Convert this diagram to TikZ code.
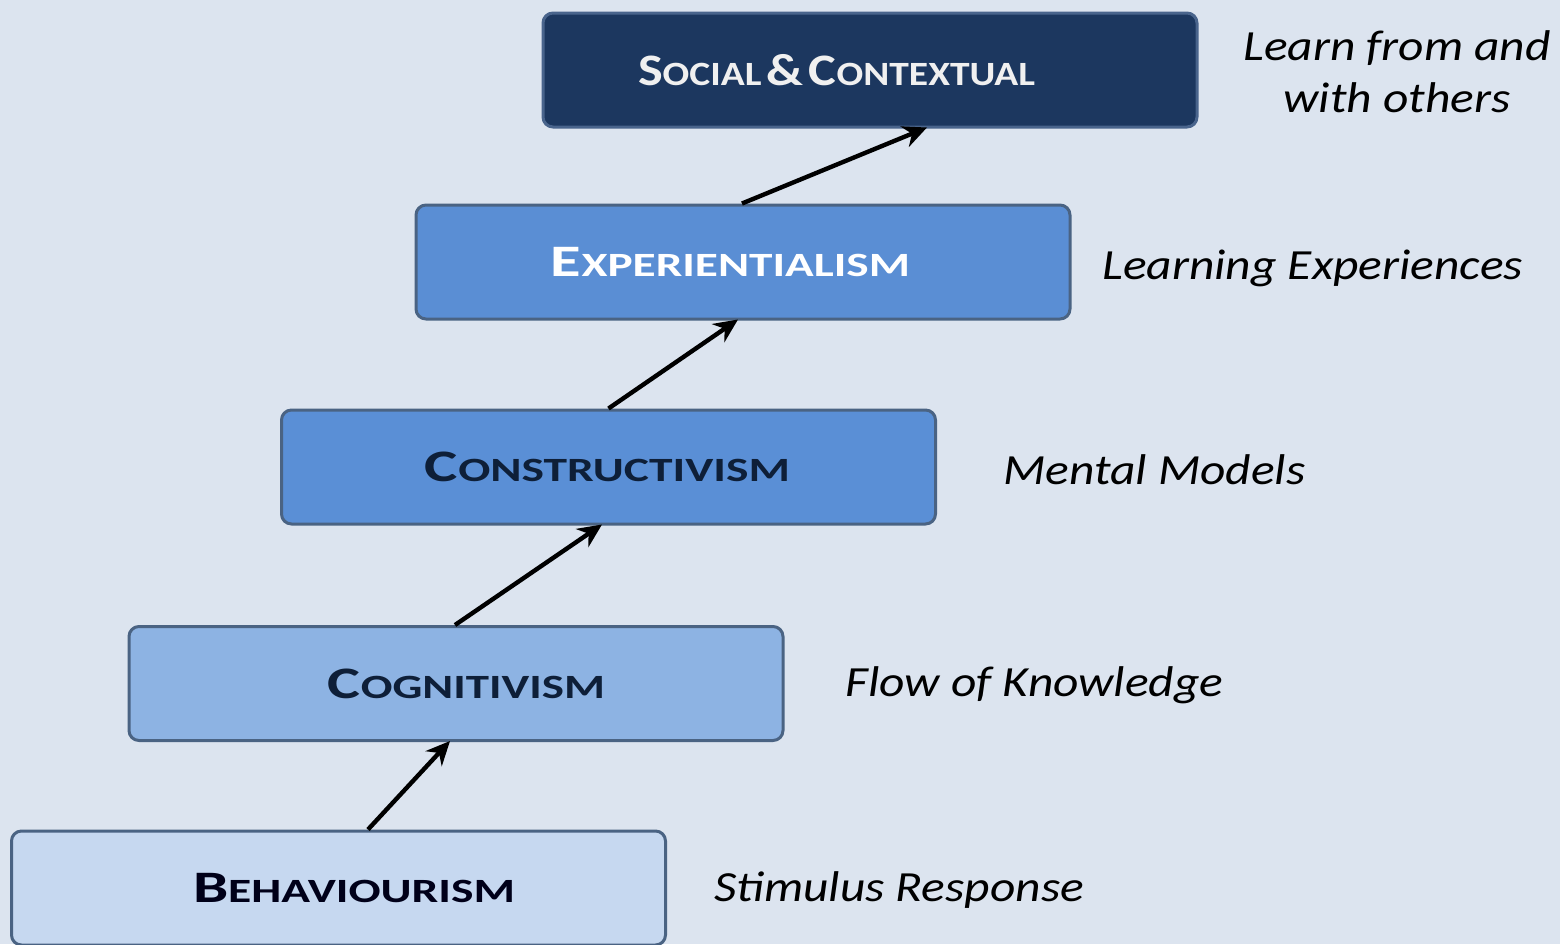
\documentclass[tikz,border=0pt]{standalone}
\usepackage{fontspec}
\usepackage{graphicx}
\setmainfont{Carlito}
\newfontfamily\notefont[FakeStretch=1.15]{Carlito}
\usetikzlibrary{arrows.meta,calc}
\definecolor{bgc}{HTML}{DCE4EF}
\definecolor{socf}{HTML}{1C375F}
\definecolor{socb}{HTML}{49648C}
\definecolor{expf}{HTML}{5A8ED4}
\definecolor{conf}{HTML}{5A8FD6}
\definecolor{cogf}{HTML}{8DB3E3}
\definecolor{behf}{HTML}{C6D8F0}
\definecolor{boxb}{HTML}{4A6383}
\definecolor{darktxt}{HTML}{0E1F38}
\newcommand\fakesc[2]{{\fontsize{22.5}{26}\selectfont #1}{\fontsize{17}{20}\selectfont #2}}
\newcommand\boxtext[4]{\hspace*{#1}\resizebox{#3}{\height}{#4}\hspace*{#2}}
\tikzset{
  stage/.style={draw=boxb, line width=1.5pt, rounded corners=5pt,
    minimum width=327pt, minimum height=57pt, inner sep=0pt,
    font=\bfseries},
  note/.style={font=\notefont\itshape\fontsize{21.5}{26}\selectfont, inner sep=0pt, text=black},
  up/.style={-{Stealth[length=12pt,width=11pt]}, line width=2.2pt, black}
}
\begin{document}
\begin{tikzpicture}[x=0.5pt,y=-0.5pt]
\fill[bgc] (0,0) rectangle (1560,944);
\useasboundingbox (0,0) rectangle (1560,944);

\node[stage, fill=socf, draw=socb, text=white!94!black] (soc) at (870,70)
  {\boxtext{0pt}{33.5pt}{198.5pt}{\fakesc{S}{OCIAL} \fakesc{\&}{} \fakesc{C}{ONTEXTUAL}}};
\node[stage, fill=expf, text=white] (exp) at (743,262)
  {\boxtext{0pt}{12.5pt}{179.5pt}{\fakesc{E}{XPERIENTIALISM}}};
\node[stage, fill=conf, text=darktxt] (con) at (608.5,467)
  {\boxtext{0pt}{1pt}{182.5pt}{\fakesc{C}{ONSTRUCTIVISM}}};
\node[stage, fill=cogf, text=darktxt] (cog) at (456,683.5)
  {\boxtext{10.5pt}{0pt}{138.5pt}{\fakesc{C}{OGNITIVISM}}};
\node[stage, fill=behf, text=black!90!blue] (beh) at (338.5,888)
  {\boxtext{15.5pt}{0pt}{161pt}{\fakesc{B}{EHAVIOURISM}}};

\node[note, align=center] (n5) at (1397,72) {Learn from and\\with others};
\node[note, anchor=west] (n4) at (1102,268) {Learning Experiences};
\node[note, anchor=west] (n3) at (1003,470) {Mental Models};
\node[note, anchor=west] (n2) at (845,685) {Flow of Knowledge};
\node[note, anchor=west] (n1) at (714,890) {Stimulus Response};

\draw[up] ($(beh.north)+(29.5,0)$) -- ($(cog.south)+(-6,-1)$);
\draw[up] ($(cog.north)+(-1,0)$) -- ($(con.south)+(-6.5,-1)$);
\draw[up] ($(con.north)+(0,0)$) -- ($(exp.south)+(-5,-1)$);
\draw[up] ($(exp.north)+(-1,0)$) -- ($(soc.south)+(57,-1)$);
\end{tikzpicture}
\end{document}
